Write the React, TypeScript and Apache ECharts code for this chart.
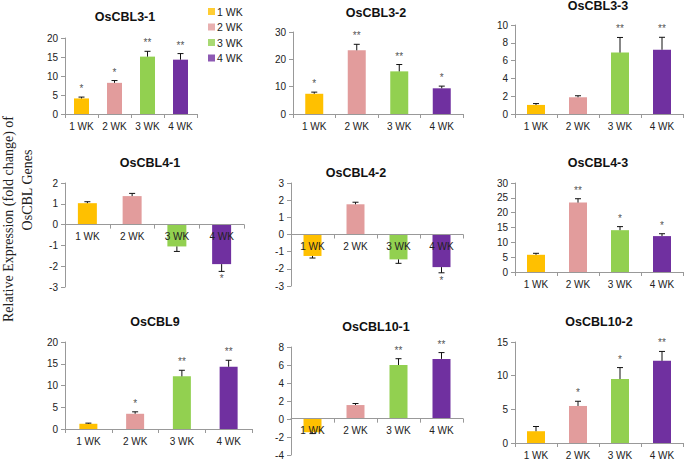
import React, { useEffect, useRef } from "react";
import * as echarts from "echarts";

const weeks = ["1 WK", "2 WK", "3 WK", "4 WK"];
const weekColors = ["#FFC000", "#E29C9C", "#92D050", "#7030A0"];

const cbl31Values = [4.1, 8.2, 15.1, 14.3];
const cbl31Errors = [0.35, 0.6, 1.4, 1.6];
const cbl31Stars = ["*", "*", "**", "**"];

const cbl32Values = [7.4, 23.3, 15.6, 9.4];
const cbl32Errors = [0.6, 2.2, 2.5, 0.8];
const cbl32Stars = ["*", "**", "**", "*"];

const cbl33Values = [1.02, 1.88, 6.9, 7.22];
const cbl33Errors = [0.15, 0.17, 1.7, 1.4];
const cbl33Stars = ["", "", "**", "**"];

const cbl41Values = [1.03, 1.37, -1.05, -1.9];
const cbl41Errors = [0.07, 0.13, 0.24, 0.35];
const cbl41Stars = ["", "", "", "*"];

const cbl42Values = [-1.25, 1.76, -1.45, -1.9];
const cbl42Errors = [0.12, 0.12, 0.23, 0.33];
const cbl42Stars = ["", "", "", "*"];

const cbl43Values = [5.8, 23.4, 14.1, 12.1];
const cbl43Errors = [0.5, 1.3, 1.2, 0.8];
const cbl43Stars = ["", "**", "*", "*"];

const cbl9Values = [1.2, 3.5, 12.1, 14.3];
const cbl9Errors = [0.15, 0.45, 1.4, 1.5];
const cbl9Stars = ["", "*", "**", "**"];

const cbl101Values = [-1.47, 1.55, 6.0, 6.68];
const cbl101Errors = [0.15, 0.17, 0.7, 0.7];
const cbl101Stars = ["", "", "**", "**"];

const cbl102Values = [1.75, 5.5, 9.5, 12.2];
const cbl102Errors = [0.7, 0.7, 1.7, 1.4];
const cbl102Stars = ["", "*", "*", "**"];

const yTitleLine1 = "Relative Expression (fold change) of";
const yTitleLine2 = "OsCBL Genes";

const panels = [
  { name: "OsCBL3-1", values: cbl31Values, errors: cbl31Errors, stars: cbl31Stars, min: 0, max: 20, interval: 5, grid: [65, 38, 132, 76], title: [125, 17], barWidth: 15 },
  { name: "OsCBL3-2", values: cbl32Values, errors: cbl32Errors, stars: cbl32Stars, min: 0, max: 30, interval: 10, grid: [293, 32, 170, 82], title: [376, 13], barWidth: 18 },
  { name: "OsCBL3-3", values: cbl33Values, errors: cbl33Errors, stars: cbl33Stars, min: 0, max: 10, interval: 2, grid: [515, 25, 168, 89], title: [598, 6], barWidth: 18 },
  { name: "OsCBL4-1", values: cbl41Values, errors: cbl41Errors, stars: cbl41Stars, min: -3, max: 2, interval: 1, grid: [65, 183, 179, 104], title: [150, 163], barWidth: 19 },
  { name: "OsCBL4-2", values: cbl42Values, errors: cbl42Errors, stars: cbl42Stars, min: -3, max: 3, interval: 1, grid: [291, 183, 172, 103], title: [356, 173], barWidth: 18 },
  { name: "OsCBL4-3", values: cbl43Values, errors: cbl43Errors, stars: cbl43Stars, min: 0, max: 30, interval: 5, grid: [515, 183, 168, 89], title: [598, 163], barWidth: 18 },
  { name: "OsCBL9", values: cbl9Values, errors: cbl9Errors, stars: cbl9Stars, min: 0, max: 20, interval: 5, grid: [65, 342, 187, 87], title: [155, 322], barWidth: 18 },
  { name: "OsCBL10-1", values: cbl101Values, errors: cbl101Errors, stars: cbl101Stars, min: -4, max: 8, interval: 2, grid: [291, 347, 172, 109], title: [376, 327], barWidth: 18 },
  { name: "OsCBL10-2", values: cbl102Values, errors: cbl102Errors, stars: cbl102Stars, min: 0, max: 15, interval: 5, grid: [515, 342, 168, 101], title: [599, 322], barWidth: 18 },
];

const FONT = "Liberation Sans, Arial, sans-serif";

export default function App() {
  const ref = useRef<HTMLDivElement>(null);
  useEffect(() => {
    if (!ref.current) return;
    const chart = echarts.init(ref.current, undefined, { renderer: "svg" });
    const grids: any[] = [];
    const xAxes: any[] = [];
    const yAxes: any[] = [];
    const series: any[] = [];
    const graphics: any[] = [];

    panels.forEach((p, k) => {
      grids.push({ left: p.grid[0], top: p.grid[1], width: p.grid[2], height: p.grid[3], containLabel: false });
      // place the category axis on the zero line (labels included)
      const zeroOffset = p.min < 0 ? -(p.grid[3] * -p.min) / (p.max - p.min) : 0;
      xAxes.push({
        type: "category",
        gridIndex: k,
        data: weeks,
        position: "bottom",
        offset: zeroOffset,
        z: 10,
        axisLine: { onZero: false, lineStyle: { color: "#999", width: 1 } },
        axisTick: { show: true, length: 4, lineStyle: { color: "#999" } },
        axisLabel: { fontSize: 10, color: "#222", margin: 7, fontFamily: FONT },
        splitLine: { show: false },
      });
      yAxes.push({
        type: "value",
        gridIndex: k,
        min: p.min,
        max: p.max,
        interval: p.interval,
        axisLine: { show: true, lineStyle: { color: "#999", width: 1 } },
        axisTick: { show: true, length: 4, lineStyle: { color: "#999" } },
        axisLabel: { fontSize: 10, color: "#222", margin: 7, fontFamily: FONT },
        splitLine: { show: false },
      });
      series.push({
        type: "bar",
        name: p.name,
        xAxisIndex: k,
        yAxisIndex: k,
        barWidth: p.barWidth,
        z: 1,
        data: p.values.map((v, j) => ({ value: v, itemStyle: { color: weekColors[j] } })),
      });
      series.push({
        type: "custom",
        name: p.name + " err",
        xAxisIndex: k,
        yAxisIndex: k,
        data: p.values.map((v, j) => [j, v]),
        encode: { x: 0, y: 1 },
        z: 5,
        renderItem: (params: any, api: any) => {
          const i = params.dataIndex;
          const v = p.values[i];
          const e = p.errors[i];
          const a = api.coord([i, v]);
          const b = api.coord([i, v >= 0 ? v + e : v - e]);
          return {
            type: "group",
            children: [
              { type: "line", shape: { x1: a[0], y1: a[1], x2: b[0], y2: b[1] }, style: { stroke: "#111", lineWidth: 1 } },
              { type: "line", shape: { x1: b[0] - 3, y1: b[1], x2: b[0] + 3, y2: b[1] }, style: { stroke: "#111", lineWidth: 1 } },
            ],
          };
        },
      });
      series.push({
        type: "scatter",
        name: p.name + " sig",
        xAxisIndex: k,
        yAxisIndex: k,
        symbol: "circle",
        symbolSize: 1,
        itemStyle: { color: "rgba(0,0,0,0)" },
        z: 6,
        silent: true,
        data: p.values.map((v, i) => ({
          value: [i, v >= 0 ? v + p.errors[i] : v - p.errors[i]],
          label: {
            show: !!p.stars[i],
            formatter: p.stars[i] || " ",
            position: v >= 0 ? "top" : "bottom",
            distance: v >= 0 ? 3 : 2,
            color: "#222",
            fontSize: 10,
            fontFamily: FONT,
          },
        })),
      });
      graphics.push({
        type: "text",
        x: p.title[0],
        y: p.title[1],
        style: { text: p.name, fontSize: 12.5, fontWeight: "bold", fontFamily: FONT, fill: "#111", align: "center", verticalAlign: "middle" },
      });
    });

    weeks.forEach((w, j) => {
      series.push({ type: "scatter", name: w, xAxisIndex: 0, yAxisIndex: 0, data: [], itemStyle: { color: weekColors[j] } });
    });

    graphics.push({
      type: "text",
      x: 8,
      y: 219,
      rotation: Math.PI / 2,
      style: { text: yTitleLine1, fontSize: 14, fontFamily: "Liberation Serif, Times New Roman, serif", fill: "#222", align: "center", verticalAlign: "middle" },
    });
    graphics.push({
      type: "text",
      x: 27,
      y: 190,
      rotation: Math.PI / 2,
      style: { text: yTitleLine2, fontSize: 14, fontFamily: "Liberation Serif, Times New Roman, serif", fill: "#222", align: "center", verticalAlign: "middle" },
    });

    chart.setOption({
      animation: false,
      backgroundColor: "#fff",
      grid: grids,
      xAxis: xAxes,
      yAxis: yAxes,
      series,
      graphic: graphics,
      legend: {
        data: weeks.map((w) => ({ name: w, icon: "rect" })),
        orient: "vertical",
        left: 203,
        top: 1,
        itemWidth: 7,
        itemHeight: 7,
        itemGap: 4.5,
        selectedMode: false,
        textStyle: { fontSize: 10.5, lineHeight: 11, color: "#222", fontFamily: FONT, padding: [0, 0, 0, -3] },
      },
    });
    return () => chart.dispose();
  }, []);
  return <div ref={ref} style={{ position: "fixed", left: 0, top: 0, width: 685, height: 460 }} />;
}
